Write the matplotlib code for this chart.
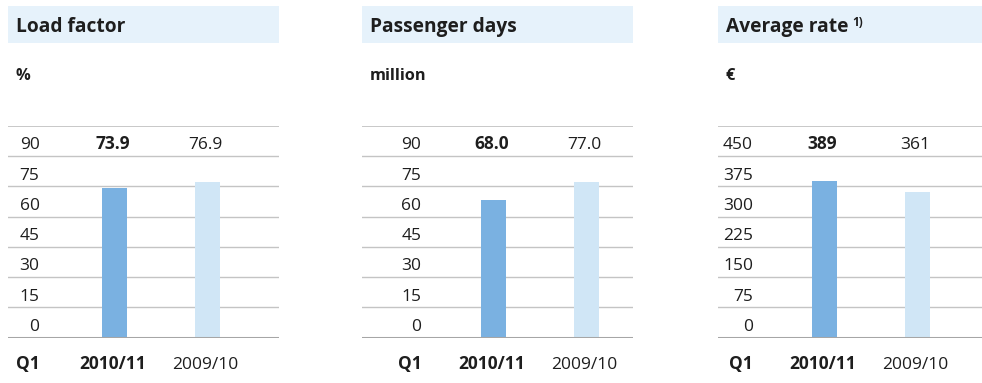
"""Q1 key figures: load factor, passenger days, average rate (2010/11 vs 2009/10)."""
import matplotlib
matplotlib.use("Agg")
import matplotlib.pyplot as plt
from matplotlib.patches import Rectangle

plt.rcParams["font.family"] = ["Open Sans", "DejaVu Sans"]

titles = ["Load factor", "Passenger days", "Average rate"]
units = ["%", "million", "€"]
years = ["2010/11", "2009/10"]
load_factor = [73.9, 76.9]
passenger_days = [68.0, 77.0]
average_rate = [389, 361]
value_labels = [["73.9", "76.9"], ["68.0", "77.0"], ["389", "361"]]
tick_steps = [15, 15, 75]
series = [load_factor, passenger_days, average_rate]

W, H = 982, 383
fig = plt.figure(figsize=(W / 100, H / 100), dpi=100)
fig.patch.set_facecolor("white")

TXT = "#1e1e1e"
DARK = "#7ab1e1"
LIGHT = "#d0e6f6"
HEAD = "#e6f2fb"
GRID = "#c4c4c4"

# pixel layout per panel: left, right, tick-label right edge, first bar centre
panels = [(8, 279, 39.5, 114.5), (362, 633, 421.5, 493.5), (717.5, 982, 753, 824.5)]
top_px, base_px = 125.7, 337.7
px_per_unit = 93.0
row_px = (base_px - top_px) / 7

title_objs = []
for i, (left, right, lab_r, bar0) in enumerate(panels):
    step = tick_steps[i]
    # header band
    fig.patches.append(Rectangle((left / W, 1 - 43 / H), (right - left) / W, 37.5 / H,
                                 transform=fig.transFigure, facecolor=HEAD,
                                 edgecolor="none", zorder=0))
    t = fig.text((left + 8) / W, 1 - 32.3 / H, titles[i], fontsize=13.8,
                 fontweight="bold", color=TXT, va="baseline")
    title_objs.append(t)
    fig.text((left + 7.5) / W, 1 - 80 / H, units[i], fontsize=11.8,
             fontweight="bold", color=TXT, va="baseline")

    ax = fig.add_axes([left / W, (H - base_px) / H, (right - left) / W,
                       (base_px - top_px) / H])
    ax.set_xlim(-(bar0 - left) / px_per_unit, (right - bar0) / px_per_unit)
    ax.set_ylim(0, 7 * step)
    ax.axis("off")
    for k in range(1, 8):
        ax.axhline(k * step, color=GRID, lw=1.3 if k == 7 else 1.0, zorder=1)
    ax.axhline(0, color="#a6a6a6", lw=2.2, zorder=3)

    ax.bar([0, 1], series[i], width=25 / px_per_unit, color=[DARK, LIGHT], zorder=2)

    xl = (lab_r - bar0) / px_per_unit
    off = 0.22 * step
    for k in range(7):
        ax.text(xl, k * step + off, f"{k * step}", ha="right", va="baseline",
                fontsize=12.5, color=TXT)
    for j in range(2):
        ax.text(j - 0.02, 6 * step + off, value_labels[i][j], ha="center",
                va="baseline", fontsize=12.5, color=TXT,
                fontweight="bold" if j == 0 else "normal")
    ycat = -(369 - base_px) / row_px * step
    ax.text(xl, ycat, "Q1", ha="right", va="baseline", fontsize=12.5,
            fontweight="bold", color=TXT)
    for j in range(2):
        ax.text(j - 0.02, ycat, years[j], ha="center", va="baseline", fontsize=12.5,
                color=TXT, fontweight="bold" if j == 0 else "normal")

# footnote marker right after the third title
fig.canvas.draw()
bb = title_objs[2].get_window_extent()
fig.text((bb.x1 + 4) / W, 1 - 25.5 / H, "1)", fontsize=8.5, fontweight="bold",
         color=TXT, va="baseline")

fig.savefig("out.png", dpi=100, facecolor="white")
